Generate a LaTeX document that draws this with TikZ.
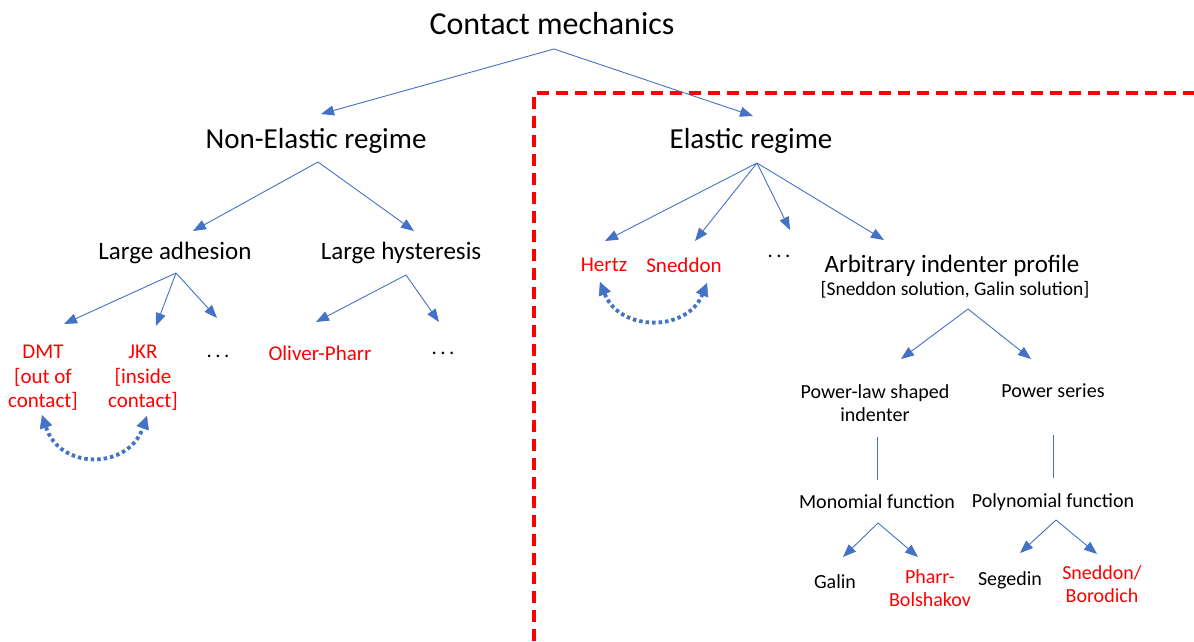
\documentclass[tikz,border=0pt]{standalone}
\usepackage{fontspec}
\setmainfont{Carlito}
\usetikzlibrary{arrows.meta}
\definecolor{lineblue}{HTML}{4472C4}
\begin{document}
\begin{tikzpicture}[x=1pt,y=-1pt,
  lbl/.style={inner sep=0pt, align=center, text=black},
  big/.style={lbl, font=\fontsize{32}{38}\selectfont},
  mid/.style={lbl, font=\fontsize{29}{34}\selectfont},
  sub/.style={lbl, font=\fontsize{25}{30}\selectfont},
  note/.style={lbl, font=\fontsize{19.5}{24}\selectfont},
  redlbl/.style={lbl, text=red, font=\fontsize{21}{24.5}\selectfont},
  dots/.style={lbl, font=\fontsize{21}{24}\selectfont},
  small/.style={lbl, font=\fontsize{20}{23}\selectfont},
  smallred/.style={small, text=red},
  link/.style={draw=lineblue, line width=0.9pt, -{Triangle[length=13pt,width=10pt]}},
  plain/.style={draw=lineblue, line width=0.9pt},
  swaplink/.style={draw=lineblue, line width=3.8pt, dash pattern=on 3.5pt off 3pt,
    {Triangle[length=13pt,width=13pt,line width=0.4pt]}-{Triangle[length=13pt,width=13pt,line width=0.4pt]}},
  frame/.style={draw=red, line width=4.5pt, dash pattern=on 12pt off 7pt, line join=miter}
]
\useasboundingbox (0,0) rectangle (1194,642);

% red dashed frame
\draw[frame] (534,660) -- (534,93) -- (1210,93);

% nodes
\node[big] (cm) at (552,24) {Contact mechanics};
\node[mid] (ne) at (316,141) {Non-Elastic regime};
\node[mid] (el) at (751,141) {Elastic regime};
\node[sub] (la) at (175,253) {Large adhesion};
\node[sub] (lh) at (401,253) {Large hysteresis};
\node[redlbl] (dmt) at (43,378) {DMT\\{[}out of\\contact]};
\node[redlbl] (jkr) at (143,378) {JKR\\{[}inside\\contact]};
\node[dots] (d1) at (218,356) {.\,.\,.};
\node[redlbl] (op) at (320,353) {Oliver-Pharr};
\node[dots] (d2) at (443,353) {.\,.\,.};
\node[redlbl] (hz) at (604,265) {Hertz};
\node[redlbl] (sn) at (684,265) {Sneddon};
\node[dots] (d3) at (779,256) {.\,.\,.};
\node[sub] (ar) at (952,266) {Arbitrary indenter profile};
\node[note] (arb) at (955,290) {[Sneddon solution, Galin solution]};
\node[small] (pl) at (875,403) {Power-law shaped\\indenter};
\node[small] (ps) at (1053,391) {Power series};
\node[small] (mf) at (877,502) {Monomial function};
\node[small] (pf) at (1053,502) {Polynomial function};
\node[small] (ga) at (835,582) {Galin};
\node[smallred] (pb) at (930,588) {Pharr-\\Bolshakov};
\node[small] (sg) at (1010,580) {Segedin};
\node[smallred] (sb) at (1102,584) {Sneddon/\\Borodich};

% connector end points
\coordinate (cm-o) at (554,49);
\coordinate (ne-i) at (321,114);
\coordinate (el-i) at (753,116);
\coordinate (ne-o) at (318,162);
\coordinate (la-i) at (193,231);
\coordinate (lh-i) at (414,231);
\coordinate (el-o) at (757,163);
\coordinate (hz-i) at (605,241);
\coordinate (sn-i) at (695,241);
\coordinate (d3-i) at (790,230);
\coordinate (ar-i) at (884,240);
\coordinate (la-o) at (176,273);
\coordinate (dmt-i) at (64,324);
\coordinate (jkr-i) at (156,326);
\coordinate (d1-i) at (217,318);
\coordinate (lh-o) at (406,275);
\coordinate (op-i) at (316,322);
\coordinate (d2-i) at (439,322);
\coordinate (ar-o) at (968,309);
\coordinate (pl-i) at (901,359);
\coordinate (ps-i) at (1031,359);
\coordinate (pl-o) at (877.5,437);
\coordinate (mf-i) at (877.5,480);
\coordinate (ps-o) at (1053,435);
\coordinate (pf-i) at (1053,478);
\coordinate (mf-o) at (878,523);
\coordinate (ga-i) at (843,557);
\coordinate (pb-i) at (918,557);
\coordinate (pf-o) at (1056,520);
\coordinate (sg-i) at (1020,553);
\coordinate (sb-i) at (1097,554);
\coordinate (dmt-s) at (42,415);
\coordinate (jkr-s) at (147,416);
\coordinate (hz-s) at (600,282);
\coordinate (sn-s) at (707,283);

% connectors
\draw[link] (cm-o) -- (ne-i);
\draw[link] (cm-o) -- (el-i);
\draw[link] (ne-o) -- (la-i);
\draw[link] (ne-o) -- (lh-i);
\draw[link] (el-o) -- (hz-i);
\draw[link] (el-o) -- (sn-i);
\draw[link] (el-o) -- (d3-i);
\draw[link] (el-o) -- (ar-i);
\draw[link] (la-o) -- (dmt-i);
\draw[link] (la-o) -- (jkr-i);
\draw[link] (la-o) -- (d1-i);
\draw[link] (lh-o) -- (op-i);
\draw[link] (lh-o) -- (d2-i);
\draw[link] (ar-o) -- (pl-i);
\draw[link] (ar-o) -- (ps-i);
\draw[plain] (pl-o) -- (mf-i);
\draw[plain] (ps-o) -- (pf-i);
\draw[link] (mf-o) -- (ga-i);
\draw[link] (mf-o) -- (pb-i);
\draw[link] (pf-o) -- (sg-i);
\draw[link] (pf-o) -- (sb-i);

% dotted double arrows
\draw[swaplink] (dmt-s) .. controls (60,470) and (128,470) .. (jkr-s);
\draw[swaplink] (hz-s) .. controls (620,332) and (687,332) .. (sn-s);
\end{tikzpicture}
\end{document}
